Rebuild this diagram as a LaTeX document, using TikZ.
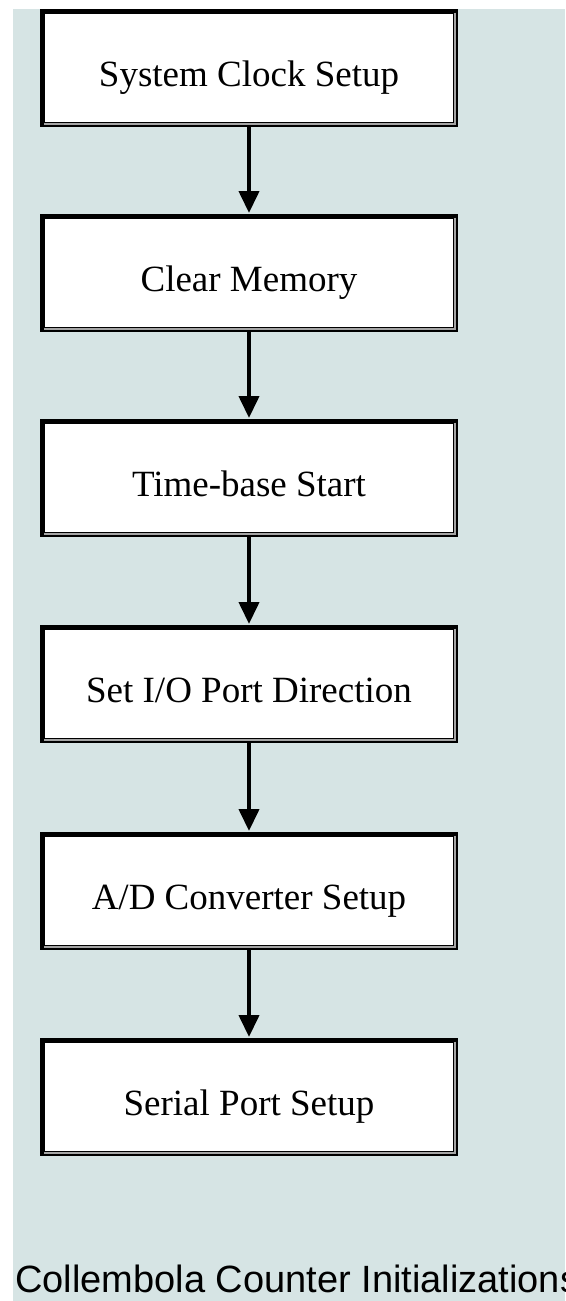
\documentclass[tikz,border=0pt]{standalone}
\usepackage{fontspec}
\setmainfont{Liberation Serif}
\newfontfamily\capfont{Liberation Sans}
\usetikzlibrary{arrows.meta}
\definecolor{bgblue}{RGB}{214,228,228}
\definecolor{boxshade}{RGB}{165,165,165}
\tikzset{
  stepbox/.style={draw=black, line width=5pt, fill=white, rectangle,
    minimum width=413pt, minimum height=113pt, inner sep=0pt,
    font=\fontsize{37}{40}\selectfont, text height=37pt, text depth=0pt},
  flow/.style={draw=black, line width=4pt, -{Triangle[width=20pt,length=22pt]}, shorten >=1pt},
  innershade/.style={draw=boxshade, line width=2pt}
}
\begin{document}
\begin{tikzpicture}[x=1pt,y=-1pt]
  \useasboundingbox (0,0) rectangle (565,1301);
  \fill[white] (0,0) rectangle (565,1301);
  \fill[bgblue] (13,9) rectangle (565,1301);
  \node[stepbox] (b1) at (249,68)  {System Clock Setup};
  \node[stepbox] (b2) at (249,273) {Clear Memory};
  \node[stepbox] (b3) at (249,478) {Time-base Start};
  \node[stepbox] (b4) at (249,684) {Set I/O Port Direction};
  \node[stepbox] (b5) at (249,891) {A/D Converter Setup};
  \node[stepbox] (b6) at (249,1097) {Serial Port Setup};
  \foreach \b in {b1,b2,b3,b4,b5,b6}{
    \draw[innershade] ([xshift=-3.5pt,yshift=-3.5pt]\b.north east) -- ([xshift=-3.5pt,yshift=3.5pt]\b.south east) -- ([xshift=3.5pt,yshift=3.5pt]\b.south west);
  }
  \draw[flow] (b1.south) -- (b2.north);
  \draw[flow] (b2.south) -- (b3.north);
  \draw[flow] (b3.south) -- (b4.north);
  \draw[flow] (b4.south) -- (b5.north);
  \draw[flow] (b5.south) -- (b6.north);
  \begin{scope}
    \clip (0,0) rectangle (565,1301);
    \node[anchor=base west, inner sep=0pt, font=\capfont\fontsize{38}{42}\selectfont] (cap) at (15,1292) {Collembola Counter Initializations};
  \end{scope}
\end{tikzpicture}
\end{document}
